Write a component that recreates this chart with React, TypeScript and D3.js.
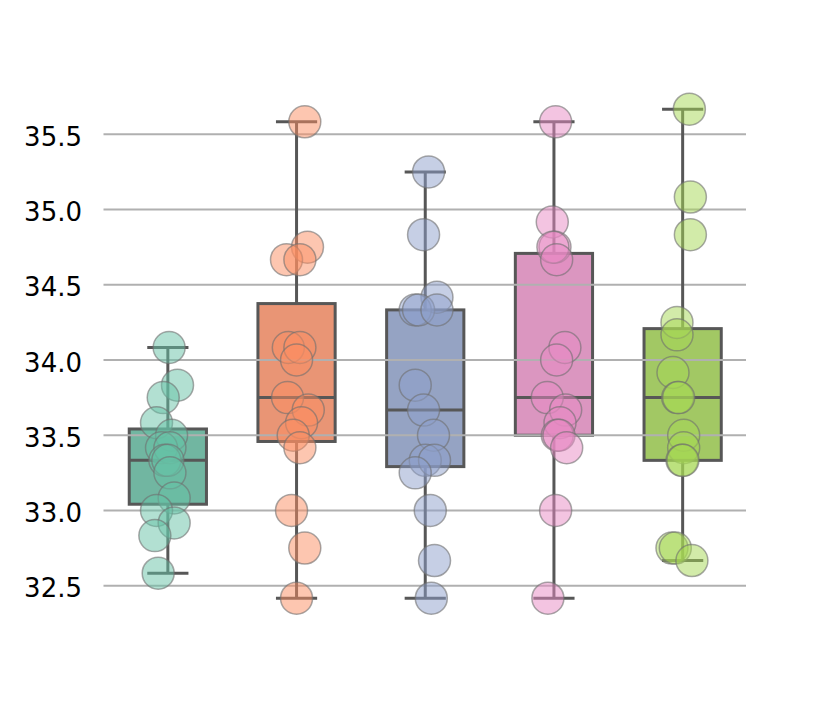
import React from "react";
import * as d3 from "d3";

const categories = ["A", "B", "C", "D", "E"];
const pointColors = ["#66c2a5", "#fc8d62", "#8da0cb", "#e78ac3", "#a6d854"];
const boxColors = ["#71b6a1", "#e99575", "#95a3c3", "#db96c0", "#a2c864"];
const yTicks = [32.5, 33.0, 33.5, 34.0, 34.5, 35.0, 35.5];

const valuesA = [34.083, 33.833, 33.75, 33.583, 33.5, 33.417, 33.417, 33.333, 33.333, 33.25, 33.083, 33.0, 32.917, 32.833, 32.583];
const jitterA = [0.01, 0.075, -0.036, -0.088, 0.029, -0.049, 0.016, -0.023, 0.0, 0.016, 0.049, -0.088, 0.049, -0.101, -0.075];

const valuesB = [35.583, 34.75, 34.667, 34.667, 34.083, 34.083, 34.0, 33.75, 33.667, 33.583, 33.5, 33.417, 33.0, 32.75, 32.417];
const jitterB = [0.064, 0.085, -0.078, 0.026, -0.064, 0.026, 0.0, -0.07, 0.091, 0.039, -0.026, 0.026, -0.039, 0.064, 0.0];

const valuesC = [35.25, 34.833, 34.417, 34.333, 34.333, 34.333, 33.833, 33.667, 33.5, 33.333, 33.333, 33.25, 33.0, 32.667, 32.417];
const jitterC = [0.026, -0.013, 0.091, -0.078, -0.052, 0.091, -0.078, -0.013, 0.064, 0.0, 0.072, -0.078, 0.039, 0.072, 0.047];

const valuesD = [35.583, 34.917, 34.75, 34.75, 34.667, 34.083, 34.0, 33.75, 33.667, 33.583, 33.5, 33.5, 33.417, 33.0, 32.417];
const jitterD = [0.013, -0.013, 0.008, -0.008, 0.021, 0.085, 0.021, -0.052, 0.091, 0.047, 0.026, 0.039, 0.099, 0.013, -0.047];

const valuesE = [35.667, 35.083, 34.833, 34.25, 34.167, 33.917, 33.75, 33.75, 33.5, 33.417, 33.333, 33.333, 32.75, 32.75, 32.667];
const jitterE = [0.052, 0.06, 0.06, -0.044, -0.044, -0.075, -0.039, -0.031, 0.008, 0.008, -0.005, 0.002, -0.083, -0.057, 0.072];

const allValues = [valuesA, valuesB, valuesC, valuesD, valuesE];
const allJitter = [jitterA, jitterB, jitterC, jitterD, jitterE];

const W = 830;
const H = 712;
const LINE = "#575757";
const GRID = "#b0b0b0";

export default function App() {
  const x = d3.scaleBand<string>().domain(categories).range([103.5, 747]).padding(0);
  const y = d3.scaleLinear().domain([32.5, 35.5]).range([585.7, 134.3]);
  const bw = x.bandwidth();
  const boxW = bw * 0.6;
  const capW = bw * 0.32;

  const stats = allValues.map((vals) => {
    const s = [...vals].sort(d3.ascending);
    return {
      q1: d3.quantileSorted(s, 0.25)!,
      med: d3.quantileSorted(s, 0.5)!,
      q3: d3.quantileSorted(s, 0.75)!,
      lo: d3.min(s)!,
      hi: d3.max(s)!,
    };
  });

  return (
    <div style={{ position: "absolute", left: 0, top: 0 }}>
      <svg width={W} height={H} style={{ display: "block", background: "#fff" }}>
        {/* boxes */}
        {categories.map((c, i) => {
          const cx = x(c)! + bw / 2;
          const st = stats[i];
          return (
            <rect
              key={"box" + c}
              x={cx - boxW / 2}
              y={y(st.q3)}
              width={boxW}
              height={y(st.q1) - y(st.q3)}
              fill={boxColors[i]}
              stroke={LINE}
              strokeWidth={3}
            />
          );
        })}
        {/* grid */}
        {yTicks.map((t) => (
          <line key={"g" + t} x1={x.range()[0]} x2={746} y1={y(t)} y2={y(t)} stroke={GRID} strokeWidth={2} />
        ))}
        {/* tick labels */}
        {yTicks.map((t) => (
          <text
            key={"t" + t}
            x={82}
            y={y(t)}
            dy={11.5}
            textAnchor="end"
            fontFamily="DejaVu Sans, sans-serif"
            fontSize={26}
            fill="#000"
          >
            {d3.format(".1f")(t)}
          </text>
        ))}
        {/* whiskers, caps, medians */}
        {categories.map((c, i) => {
          const cx = x(c)! + bw / 2;
          const st = stats[i];
          return (
            <g key={"w" + c} stroke={LINE} strokeWidth={3} fill="none">
              <line x1={cx} x2={cx} y1={y(st.q3)} y2={y(st.hi)} />
              <line x1={cx} x2={cx} y1={y(st.q1)} y2={y(st.lo)} />
              <line x1={cx - capW / 2} x2={cx + capW / 2} y1={y(st.hi)} y2={y(st.hi)} />
              <line x1={cx - capW / 2} x2={cx + capW / 2} y1={y(st.lo)} y2={y(st.lo)} />
              <line x1={cx - boxW / 2} x2={cx + boxW / 2} y1={y(st.med)} y2={y(st.med)} />
            </g>
          );
        })}
        {/* points */}
        {categories.map((c, i) => {
          const cx = x(c)! + bw / 2;
          return (
            <g key={"p" + c}>
              {allValues[i].map((v, j) => (
                <circle
                  key={j}
                  cx={cx + allJitter[i][j] * bw}
                  cy={y(v)}
                  r={16}
                  fill={pointColors[i]}
                  fillOpacity={0.5}
                  stroke="#707070"
                  strokeOpacity={0.6}
                  strokeWidth={1.5}
                />
              ))}
            </g>
          );
        })}
      </svg>
    </div>
  );
}
